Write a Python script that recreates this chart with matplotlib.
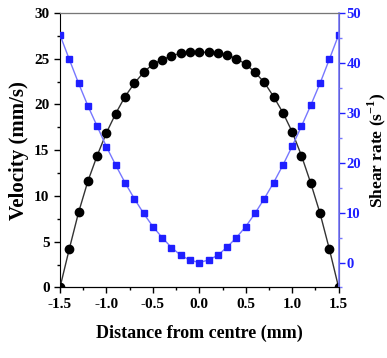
import matplotlib
matplotlib.use("Agg")
import matplotlib.pyplot as plt
from matplotlib.ticker import MultipleLocator

plt.rcParams['font.family'] = ['Liberation Serif', 'DejaVu Serif']
plt.rcParams['font.weight'] = 'bold'
plt.rcParams['axes.unicode_minus'] = False
plt.rcParams['mathtext.fontset'] = 'custom'
plt.rcParams['mathtext.bf'] = 'Liberation Serif:bold'

# distance from centre (mm), 0.1 mm steps
x = [-1.5, -1.4, -1.3, -1.2, -1.1, -1.0, -0.9, -0.8, -0.7, -0.6, -0.5,
     -0.4, -0.3, -0.2, -0.1, 0.0, 0.1, 0.2, 0.3, 0.4, 0.5,
     0.6, 0.7, 0.8, 0.9, 1.0, 1.1, 1.2, 1.3, 1.4, 1.5]
velocity = [0.0, 4.2, 8.2, 11.6, 14.4, 16.9, 19.0, 20.85, 22.3, 23.5, 24.4,
            24.9, 25.3, 25.6, 25.7, 25.7, 25.7, 25.6, 25.4, 25.0, 24.4,
            23.5, 22.4, 20.85, 19.1, 17.0, 14.4, 11.4, 8.1, 4.2, 0.0]
shear = [45.6, 40.7, 35.9, 31.4, 27.3, 23.2, 19.5, 16.0, 12.8, 9.85, 7.2,
         5.0, 3.0, 1.46, 0.46, 0.0, 0.5, 1.46, 3.1, 5.0, 7.2,
         9.85, 12.8, 16.0, 19.5, 23.3, 27.3, 31.5, 35.9, 40.7, 45.6]

blue = '#1f1fff'
light_blue = '#7777ff'

fig = plt.figure(figsize=(3.87, 3.58), dpi=100)
ax = fig.add_axes([0.155, 0.197, 0.72, 0.767])
ax2 = ax.twinx()

ax.plot(x, velocity, color='#333333', lw=1.0, marker='o', ms=6,
        mfc='black', mec='black', zorder=3)
ax2.plot(x, shear, color=light_blue, lw=1.0, marker='s', ms=5,
         mfc=blue, mec=blue)

ax.set_xlim(-1.5, 1.5)
ax.set_ylim(0, 30)
ax2.set_ylim(-5, 50)

ax.xaxis.set_major_locator(MultipleLocator(0.5))
ax.xaxis.set_minor_locator(MultipleLocator(0.25))
ax.yaxis.set_major_locator(MultipleLocator(5))
ax.yaxis.set_minor_locator(MultipleLocator(2.5))
ax2.yaxis.set_major_locator(MultipleLocator(10))
ax2.yaxis.set_minor_locator(MultipleLocator(5))
ax2.set_yticks([0, 10, 20, 30, 40, 50])

ax.tick_params(axis='both', which='major', labelsize=11, length=4, width=1)
ax.tick_params(axis='both', which='minor', length=2, width=1)
ax2.tick_params(axis='y', which='major', labelsize=10.5, length=4, width=1,
                colors=blue, pad=1.5)
ax2.tick_params(axis='y', which='minor', length=2, width=1, colors=light_blue)

for s in ['left', 'bottom']:
    ax.spines[s].set_color('black')
ax2.spines['top'].set_color('#777777')
ax2.spines['right'].set_color(light_blue)
ax2.spines['left'].set_visible(False)
ax2.spines['right'].set_linewidth(1.2)

ax.set_xlabel('Distance from centre (mm)', fontsize=13, fontweight='bold', labelpad=10)
ax.set_ylabel('Velocity (mm/s)', fontsize=15, fontweight='bold', labelpad=4)
ax2.set_ylabel('Shear rate (s$^{\\mathbf{-1}}$)', fontsize=12.5, fontweight='bold',
               color='black')
ax2.yaxis.set_label_coords(1.095, 0.5)

fig.savefig('out.png', dpi=100)
